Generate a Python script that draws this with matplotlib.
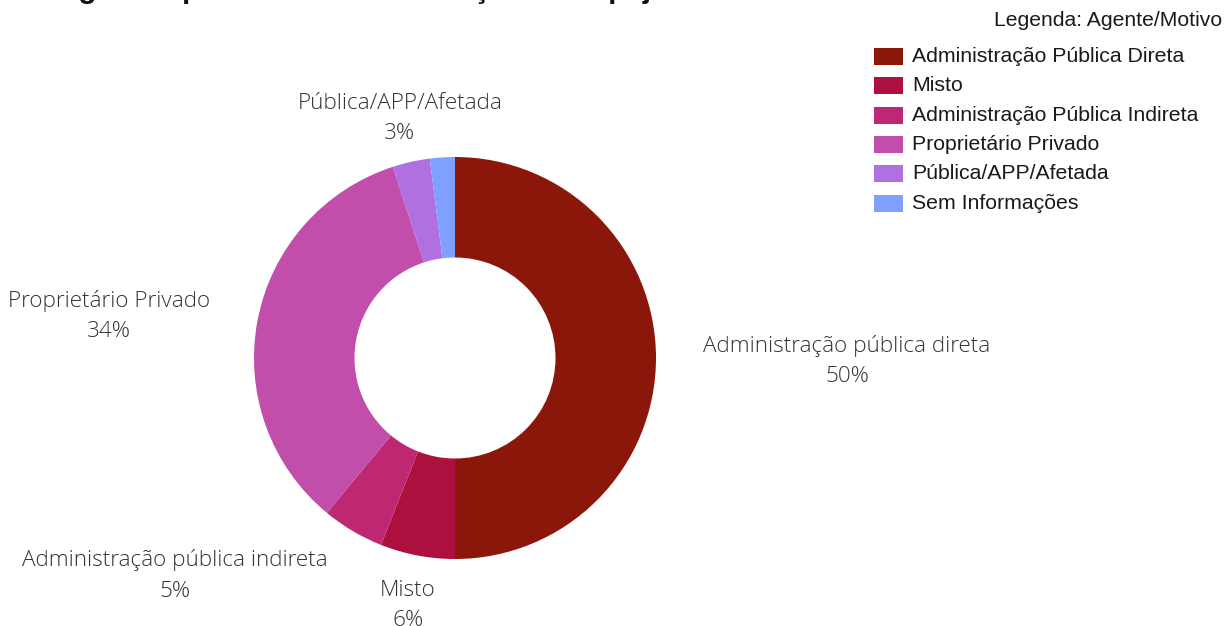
import matplotlib
matplotlib.use('Agg')
import matplotlib.pyplot as plt
from matplotlib.patches import Rectangle

# agent / motive shares, in percent
agentes = ['Administração pública direta', 'Misto', 'Administração pública indireta',
           'Proprietário Privado', 'Pública/APP/Afetada', 'Sem Informações']
legenda = ['Administração Pública Direta', 'Misto', 'Administração Pública Indireta',
           'Proprietário Privado', 'Pública/APP/Afetada', 'Sem Informações']
percentuais = [50, 6, 5, 34, 3, 2]
cores = ['#8b160a', '#ad0f3e', '#be2873', '#c04eaa', '#b070e0', '#7fa0ff']

# where each slice label sits (pie data units); None = no label
pos_rotulos = [(1.95, -0.015), (-0.234, -1.231), (-1.393, -1.082),
               (-1.72, 0.211), (-0.274, 1.191), None]

W, H = 1228, 626
fig = plt.figure(figsize=(W / 100, H / 100), dpi=100)

cx, cy, r = 455, 358, 201
ax = fig.add_axes([(cx - r) / W, (H - cy - r) / H, 2 * r / W, 2 * r / H])
ax.pie(percentuais, colors=cores, startangle=90, counterclock=False,
       wedgeprops=dict(width=0.5, linewidth=0))
ax.set_xlim(-1, 1)
ax.set_ylim(-1, 1)
ax.set_aspect('equal')

for nome, v, p in zip(agentes, percentuais, pos_rotulos):
    if p is None:
        continue
    ax.text(p[0], p[1], f'{nome}\n{v}%', ha='center', va='center',
            fontsize=16.2, family='Open Sans', weight='light', color='#333333',
            linespacing=1.57, clip_on=False)

# title sits mostly above the canvas
fig.text(57 / W, 1 + 2.5 / H, 'Agentes promotores da ameaça de despejo',
         fontsize=21.3, weight='bold', family='Liberation Sans', color='#111111',
         ha='left', va='baseline')

# legend drawn by hand
fig.text(1222 / W, 1 - 21 / H, 'Legenda: Agente/Motivo', ha='right', va='center',
         fontsize=15.2, family='Liberation Sans', color='#1a1a1a')
for i, (nome, c) in enumerate(zip(legenda, cores)):
    yc = 56.5 + i * 29.3
    fig.patches.append(Rectangle((874 / W, 1 - (yc + 8.5) / H), 29 / W, 17 / H,
                                 transform=fig.transFigure, color=c, linewidth=0))
    fig.text(912 / W, 1 - yc / H, nome, ha='left', va='center',
             fontsize=15.3, family='Liberation Sans', color='#1a1a1a')

fig.savefig('out.png', dpi=100)
